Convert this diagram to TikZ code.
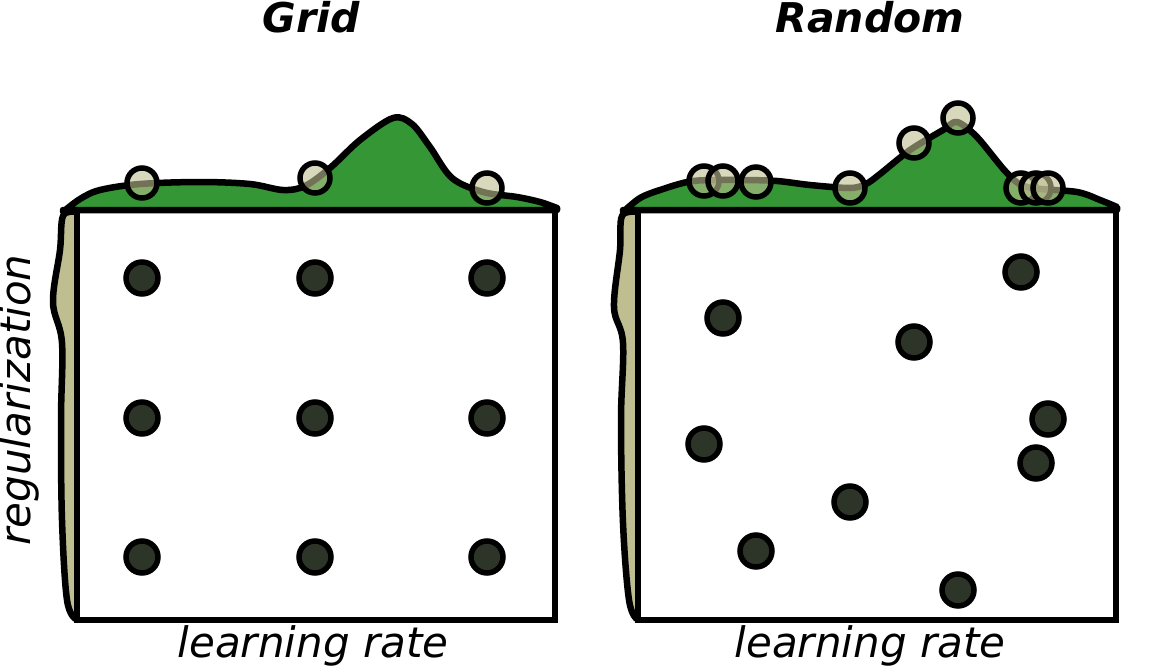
\documentclass[tikz,border=0pt]{standalone}
\usepackage{fontspec}
\setmainfont{DejaVu Sans}
\definecolor{kgreen}{RGB}{52,150,52}
\definecolor{ktan}{RGB}{190,190,145}
\definecolor{kdot}{RGB}{45,52,40}
\tikzset{
  densline/.style={line width=6.5pt, line join=round, line cap=round},
  frame/.style={draw=black, line width=5.5pt, fill=white},
  sample/.style={circle, draw=black, line width=5.5pt, fill=kdot, minimum size=32pt, inner sep=0pt},
  proj/.style={circle, draw=black, line width=5.5pt, fill=ktan, fill opacity=0.6, minimum size=30pt, inner sep=0pt},
  title/.style={font=\fontsize{41}{48}\selectfont\bfseries\itshape},
  axlabel/.style={font=\fontsize{42}{48}\selectfont\itshape},
}
\begin{document}
\begin{tikzpicture}[x=1pt,y=-1pt]
\useasboundingbox (0,0) rectangle (1154,670);
% ---------- Grid ----------
\filldraw[densline, fill=ktan] plot[smooth, tension=0.6] coordinates {(76,212) (63,216) (60,250) (53,302) (62,343) (61,420) (62,520) (67,600) (76,619)};
\draw[frame] (77,210) rectangle (555,620);
\filldraw[densline, fill=kgreen] plot[smooth, tension=0.55] coordinates {(63,212) (80,199) (100,190) (140,184) (200,182) (250,184) (283,190) (305,186) (330,168) (360,140) (393,118) (412,124) (430,147) (452,178) (483,192) (517,197) (540,202) (557,208)} -- (557,210) -- (63,210) -- cycle;
\draw[line width=5.5pt] (77,210) -- (555,210);
\node[proj] (g1) at (142,183) {};
\node[proj] (g2) at (315,178) {};
\node[proj] (g3) at (487,188) {};
\foreach \i/\x in {1/142,2/315,3/487}{
  \foreach \j/\y in {1/278,2/418,3/557}{
    \node[sample] (gd\i\j) at (\x,\y) {};
  }
}
\node[title] (gt) at (311,17) {Grid};
\node[axlabel] (gx) at (313,646) {learning rate};
\node[axlabel, rotate=90] (gy) at (19,400) {regularization};
% ---------- Random ----------
\filldraw[densline, fill=ktan] plot[smooth, tension=0.6] coordinates {(637,212) (622,216) (620,250) (614,307) (623,343) (621,420) (623,523) (629,600) (637,619)};
\draw[frame] (638,210) rectangle (1116,620);
\filldraw[densline, fill=kgreen] plot[smooth, tension=0.5] coordinates {(623,212) (640,198) (660,190) (693,181) (740,180) (777,181) (810,185) (850,188) (866,184) (880,174) (910,150) (943,130) (957,122) (977,137) (1007,173) (1027,187) (1077,192) (1100,200) (1117,207)} -- (1117,210) -- (623,210) -- cycle;
\draw[line width=5.5pt] (638,210) -- (1116,210);
\node[proj] (r1) at (704,181) {};
\node[proj] (r2) at (723,181) {};
\node[proj] (r3) at (756,182) {};
\node[proj] (r4) at (850,188) {};
\node[proj] (r5) at (914,143) {};
\node[proj] (r6) at (958,118) {};
\node[proj] (r7) at (1021,188) {};
\node[proj] (r8) at (1036,188) {};
\node[proj] (r9) at (1048,188) {};
\node[sample] (rd1) at (1021,272) {};
\node[sample] (rd2) at (723,318) {};
\node[sample] (rd3) at (914,342) {};
\node[sample] (rd4) at (1048,419) {};
\node[sample] (rd5) at (704,444) {};
\node[sample] (rd6) at (1036,463) {};
\node[sample] (rd7) at (850,502) {};
\node[sample] (rd8) at (756,551) {};
\node[sample] (rd9) at (958,590) {};
\node[title] (rt) at (870,17) {Random};
\node[axlabel] (rx) at (870,646) {learning rate};
\end{tikzpicture}
\end{document}
